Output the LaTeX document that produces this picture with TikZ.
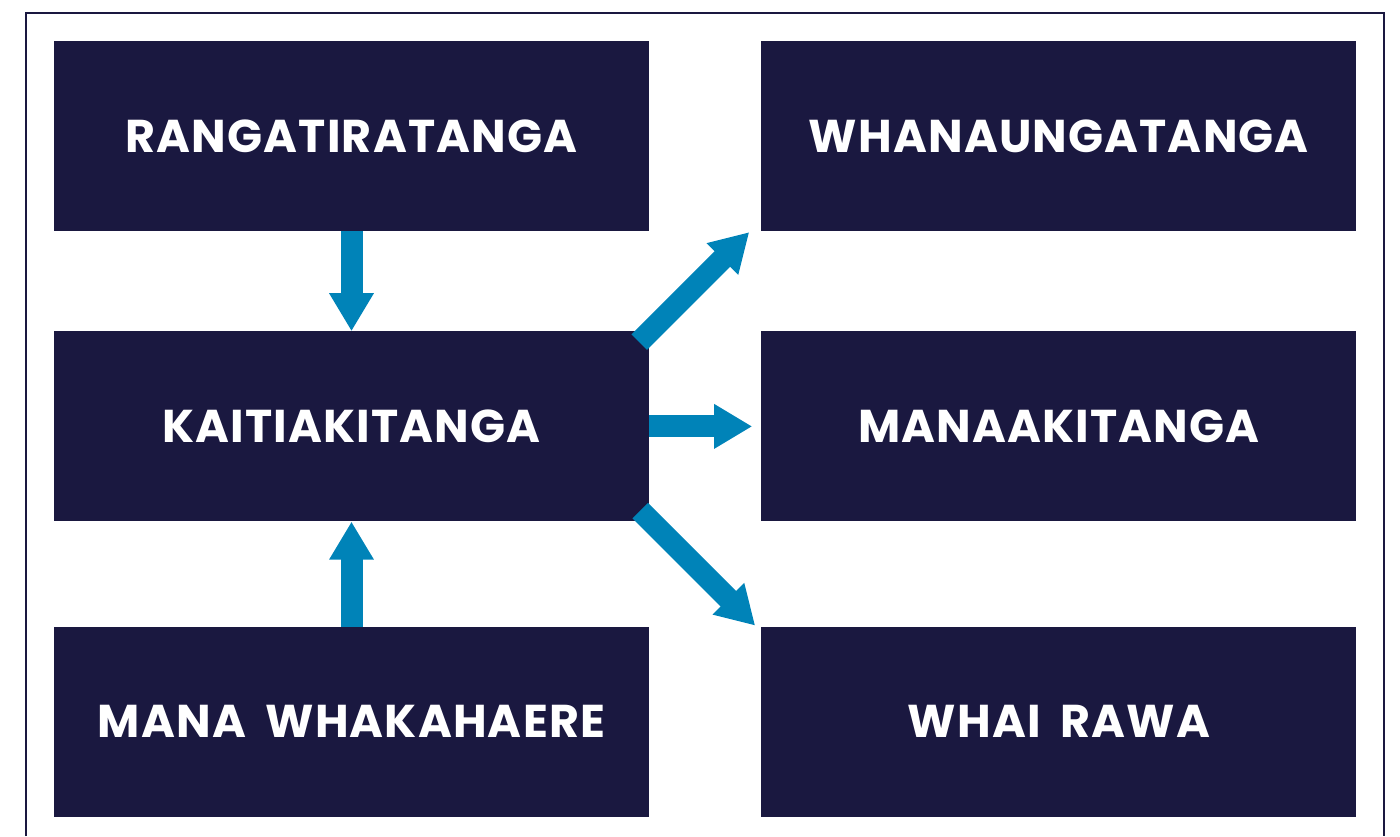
\documentclass[tikz,border=0pt]{standalone}
\usepackage{fontspec}
\setmainfont{Poppins}
\newfontfamily\boxfont{Poppins}[LetterSpace=2.5, WordSpace=1.8]
\usetikzlibrary{positioning, arrows.meta}

\definecolor{navy}{HTML}{1A1840}
\definecolor{teal}{HTML}{0083B8}

\begin{document}
\begin{tikzpicture}[
    x=1pt, y=1pt,
    node distance=100pt and 112pt,
    box/.style={rectangle, fill=navy, text=white, minimum width=595pt, minimum height=190pt, inner sep=0pt, align=center, font=\boxfont\fontsize{46}{50}\selectfont\bfseries},
    arrow/.style={-{Triangle[length=38pt, width=42pt]}, line width=22pt, teal},
    frame/.style={navy, line width=2.5pt}
]
\useasboundingbox (0,0) rectangle (1400,836);

% Outer frame (open at the bottom)
\draw[frame] (26,0) -- (26,823) -- (1384,823) -- (1384,0);

% Left column
\node[box] (rang) at (351.5,700) {RANGATIRATANGA};
\node[box, below=of rang] (kai) {KAITIAKITANGA};
\node[box, below=105pt of kai] (mana) {MANA WHAKAHAERE};

% Right column
\node[box, right=of rang] (whan) {WHANAUNGATANGA};
\node[box, right=of kai] (manaaki) {MANAAKITANGA};
\node[box, right=of mana] (whai) {WHAI RAWA};

% Connections
\draw[arrow] (rang.south) -- (kai.north);
\draw[arrow] (mana.north) -- (kai.south);
\draw[arrow, shorten >=9pt] (kai.east) -- (manaaki.west);
\draw[arrow] ([xshift=-10pt, yshift=-11pt]kai.north east) -- ([xshift=-12pt, yshift=-1pt]whan.south west);
\draw[arrow] ([xshift=-9pt, yshift=11pt]kai.south east) -- ([xshift=-6pt, yshift=1pt]whai.north west);

\end{tikzpicture}
\end{document}
